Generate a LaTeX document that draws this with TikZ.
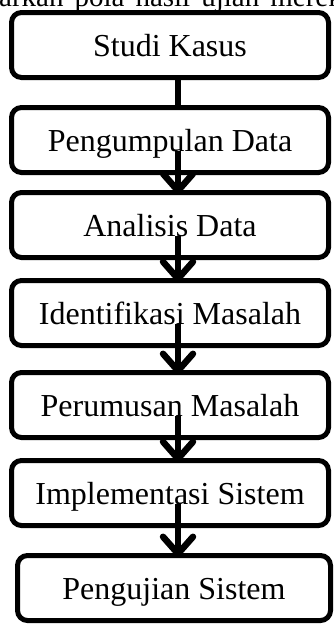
\documentclass[tikz,border=0pt]{standalone}
\usepackage{fontspec}
\setmainfont{Liberation Serif}
\usetikzlibrary{arrows.meta,calc}
\begin{document}
\begin{tikzpicture}[x=1pt,y=-1pt,
  box/.style={draw=black, fill=white, line width=5pt, rounded corners=10pt,
    minimum width=317pt, minimum height=65pt, inner sep=0pt,
    text height=22pt, text depth=0pt, font=\fontsize{32}{36}\selectfont},
  link/.style={draw=black, line width=6pt},
  flow/.style={link, -{Straight Barb[round,length=17pt,width=30pt,line width=6.5pt]}, shorten >=-4pt}]
\useasboundingbox (0,0) rectangle (333,624);
\node[anchor=base west, inner sep=0pt, font=\fontsize{29}{30}\selectfont] (top) at (-1,6) {\spaceskip=11pt arkan pola hasil ujian mereka};
\node[box] (b1) at (170,45) {Studi Kasus};
\node[box] (b2) at (170,140) {Pengumpulan Data};
\node[box] (b3) at (170,225) {Analisis Data};
\node[box] (b4) at (170,313) {Identifikasi Masalah};
\node[box] (b5) at (170,405) {Perumusan Masalah};
\node[box] (b6) at (170,493) {Implementasi Sistem};
\node[box, minimum width=313pt] (b7) at (174,588) {Pengujian Sistem};
\coordinate (s1) at ($(b1.center)+(8,11)$);
\coordinate (s2) at ($(b2.center)+(8,11)$);
\coordinate (s3) at ($(b3.center)+(8,11)$);
\coordinate (s4) at ($(b4.center)+(8,11)$);
\coordinate (s5) at ($(b5.center)+(8,11)$);
\coordinate (s6) at ($(b6.center)+(8,11)$);
\draw[link] (s1 |- b1.south) -- (s1 |- b2.north);
\draw[flow] (s2) -- (s2 |- b3.north);
\draw[flow] (s3) -- (s3 |- b4.north);
\draw[flow] (s4) -- (s4 |- b5.north);
\draw[flow] (s5) -- (s5 |- b6.north);
\draw[flow] (s6) -- (s6 |- b7.north);
\end{tikzpicture}
\end{document}
